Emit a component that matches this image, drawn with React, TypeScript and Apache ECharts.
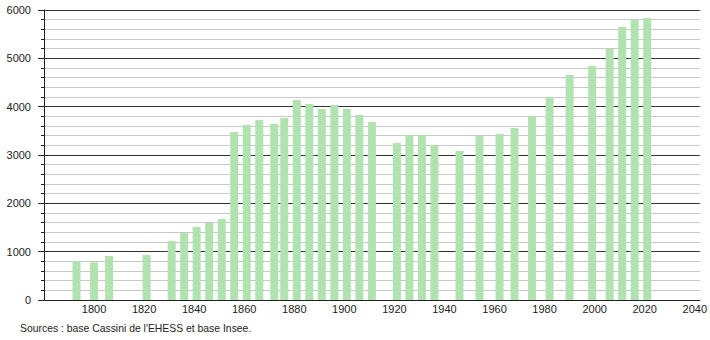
import React, { useEffect, useRef } from "react";
import * as echarts from "echarts";

const years = [
  1793, 1800, 1806, 1821, 1831, 1836, 1841, 1846, 1851, 1856, 1861, 1866, 1872,
  1876, 1881, 1886, 1891, 1896, 1901, 1906, 1911, 1921, 1926, 1931, 1936, 1946,
  1954, 1962, 1968, 1975, 1982, 1990, 1999, 2006, 2011, 2016, 2021,
];
const population = [
  807, 780, 910, 931, 1221, 1386, 1510, 1593, 1676, 3476, 3621, 3724, 3641,
  3766, 4138, 4055, 3952, 4034, 3952, 3828, 3683, 3248, 3414, 3414, 3207, 3083,
  3393, 3434, 3559, 3807, 4200, 4655, 4841, 5193, 5648, 5793, 5834,
];
const sourceText = "Sources : base Cassini de l'EHESS et base Insee.";

export default function App() {
  const ref = useRef<HTMLDivElement>(null);
  useEffect(() => {
    document.body.style.margin = "0";
    if (!ref.current) return;
    const chart = echarts.init(ref.current, null, { renderer: "svg" });
    const font = "'Liberation Sans', Arial, sans-serif";
    chart.setOption({
      animation: false,
      backgroundColor: "#ffffff",
      grid: { left: 44, right: 10, top: 10, bottom: 40, containLabel: false },
      xAxis: {
        type: "value",
        min: 1780,
        max: 2042,
        interval: 20,
        axisLine: { show: true, lineStyle: { color: "#222", width: 1 } },
        axisTick: { show: false },
        splitLine: { show: false },
        axisLabel: {
          margin: 3,
          fontSize: 11,
          fontFamily: font,
          color: "#222",
          formatter: (v: number) => (v % 20 === 0 && v > 1780 ? String(v) : ""),
        },
      },
      yAxis: {
        type: "value",
        min: 0,
        max: 6000,
        interval: 1000,
        axisLine: { show: true, lineStyle: { color: "#222", width: 1 } },
        axisTick: { show: true, length: 6, lineStyle: { color: "#222" } },
        minorTick: { show: true, splitNumber: 5, length: 3, lineStyle: { color: "#222" } },
        splitLine: { show: true, lineStyle: { color: "#333", width: 1 } },
        minorSplitLine: { show: true, lineStyle: { color: "#c8c8c8", width: 1 } },
        axisLabel: {
          margin: 13,
          fontSize: 11,
          fontFamily: font,
          color: "#222",
          formatter: (v: number) => String(v),
        },
      },
      series: [
        {
          type: "bar",
          data: years.map((y, i) => [y, population[i]]),
          barWidth: 8,
          itemStyle: { color: "#b1e3b1" },
          z: 3,
        },
      ],
      graphic: [
        {
          type: "text",
          left: 20,
          top: 323,
          style: { text: sourceText, fontSize: 10.4, fontFamily: font, fill: "#222" },
        },
      ],
    });
    return () => chart.dispose();
  }, []);
  return <div ref={ref} style={{ width: 710, height: 340 }} />;
}
